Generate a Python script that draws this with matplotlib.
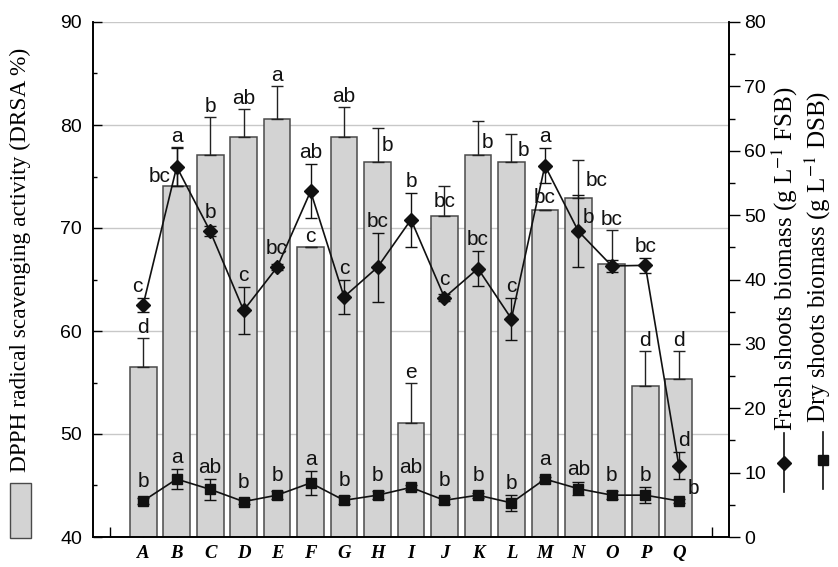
import numpy as np
import matplotlib
matplotlib.use('Agg')
import matplotlib.pyplot as plt
from matplotlib.lines import Line2D
from matplotlib.patches import Rectangle
from matplotlib.ticker import MultipleLocator

plt.rcParams['mathtext.fontset'] = 'stix'

# treatments on the x axis
groups = list('ABCDEFGHIJKLMNOPQ')

# DPPH radical scavenging activity (left axis, bars)
drsa = [56.5, 74.1, 77.1, 78.8, 80.6, 68.2, 78.8, 76.4, 51.1, 71.2, 77.1, 76.4, 71.7, 72.9, 66.5, 54.7, 55.3]
drsa_err = [2.8, 3.8, 3.7, 2.8, 3.2, 0.0, 2.9, 3.3, 3.9, 2.9, 3.3, 2.7, 0.0, 3.7, 3.3, 3.4, 2.8]
drsa_letters = ['d', 'bc', 'b', 'ab', 'a', 'c', 'ab', 'b', 'e', 'bc', 'b', 'b', 'bc', 'bc', 'bc', 'd', 'd']

# fresh shoots biomass (right axis, diamonds)
fsb = [36.1, 57.5, 47.5, 35.2, 41.9, 53.7, 37.3, 41.9, 49.3, 37.2, 41.7, 33.9, 57.7, 47.5, 42.1, 42.2, 11.1]
fsb_err = [1.1, 3.0, 0.8, 3.7, 0.5, 4.2, 2.7, 5.4, 4.2, 0.5, 2.7, 3.3, 2.7, 5.6, 0.9, 1.2, 2.1]
fsb_letters = ['c', 'a', 'b', 'c', 'bc', 'ab', 'c', 'bc', 'b', 'c', 'bc', 'c', 'a', 'b', 'bc', 'bc', 'd']

# dry shoots biomass (right axis, squares)
dsb = [5.6, 9.0, 7.4, 5.5, 6.5, 8.4, 5.7, 6.5, 7.7, 5.7, 6.5, 5.3, 9.0, 7.5, 6.5, 6.5, 5.6]
dsb_err = [0.4, 1.5, 1.6, 0.4, 0.6, 1.9, 0.6, 0.6, 0.4, 0.5, 0.4, 1.3, 0.3, 1.0, 0.6, 1.2, 0.3]
dsb_letters = ['b', 'a', 'ab', 'b', 'b', 'a', 'b', 'b', 'ab', 'b', 'b', 'b', 'a', 'ab', 'b', 'b', 'b']

SANS = 'Liberation Sans'
SERIF = 'Liberation Serif'
DPI = 100
PT = 72.0 / DPI  # pixels -> points

fig = plt.figure(figsize=(8.38, 5.67), dpi=DPI)
ax1 = fig.add_axes([93 / 838, 1 - 537 / 567, 636 / 838, 515 / 567])
ax2 = ax1.twinx()

x = np.arange(1, len(groups) + 1)

ax1.bar(x, drsa, width=0.8, color='#d3d3d3', edgecolor='#4a4a4a', linewidth=1.1, zorder=2,
        yerr=[np.zeros(len(drsa)), drsa_err],
        error_kw=dict(ecolor='#222222', elinewidth=1.0, capsize=4, capthick=1.0))

ax2.errorbar(x, fsb, yerr=fsb_err, color='#111111', lw=1.2, marker='D', ms=7.5,
             capsize=4, elinewidth=1.0, capthick=1.0)
ax2.errorbar(x, dsb, yerr=dsb_err, color='#111111', lw=1.2, marker='s', ms=7.5,
             capsize=4, elinewidth=1.0, capthick=1.0)

ax1.set_xlim(-0.5, 18.5)
ax1.set_ylim(40, 90)
ax2.set_ylim(0, 80)

ax1.set_xticks(np.arange(0, 19))
ax1.set_xticklabels([''] + groups + [''], fontfamily=SERIF, fontweight='bold',
                    fontstyle='italic', fontsize=13.5)
ax1.tick_params(axis='x', direction='in', length=7, width=1, pad=6)

ax1.yaxis.set_major_locator(MultipleLocator(10))
ax1.yaxis.set_minor_locator(MultipleLocator(5))
ax1.tick_params(axis='y', which='major', direction='in', length=6.5, width=1, pad=8, labelsize=14)
ax1.tick_params(axis='y', which='minor', direction='in', length=3, width=1)
for lab in ax1.get_yticklabels():
    lab.set_fontfamily(SANS)

ax2.yaxis.set_major_locator(MultipleLocator(10))
ax2.yaxis.set_minor_locator(MultipleLocator(5))
ax2.tick_params(axis='y', which='major', direction='out', length=8, width=1, pad=3, labelsize=14)
ax2.tick_params(axis='y', which='minor', direction='out', length=4, width=1)
for lab in ax2.get_yticklabels():
    lab.set_fontfamily(SANS)

ax1.set_axisbelow(True)
ax1.yaxis.grid(True, color='#c8c8c8', lw=1.0)
ax1.get_ygridlines()[-1].set_visible(False)

for ax in (ax1, ax2):
    ax.spines['top'].set_visible(False)
    for s in ('left', 'right', 'bottom'):
        ax.spines[s].set_linewidth(1.2)


def put_letters(ax, values, errs, letters, gap, clear, special):
    for i, (xi, v, e, txt) in enumerate(zip(x, values, errs, letters)):
        _, y0 = ax.transData.transform((xi, v))
        _, y1 = ax.transData.transform((xi, v + e))
        if i in special:
            if special[i] is None:  # shares the bar's letter at the same spot
                continue
            dx, dy, ha, va = special[i]
        else:
            dx, dy, ha, va = 0, max(y1 - y0, clear) + gap, 'center', 'bottom'
        ax.annotate(txt, (xi, v), xytext=(dx * PT, dy * PT), textcoords='offset points',
                    ha=ha, va=va, fontsize=15, fontfamily=SANS, color='#111111', zorder=6)


# letters that sit beside the error bars instead of above them
bar_special = {1: (-17, 9, 'center', 'center'), 5: (0, 10, 'center', 'center'),
               7: (4, 17, 'left', 'center'), 9: (0, 14, 'center', 'center'),
               10: (4, 12, 'left', 'center'), 11: (6, 12, 'left', 'center'),
               12: (0, 13, 'center', 'center'), 13: (7, 18, 'left', 'center')}
fsb_special = {0: (-6, 9, 'center', 'bottom'), 13: (4, 14, 'left', 'center'),
               14: None, 16: (5, 16, 'center', 'bottom')}
dsb_special = {16: (9, 12, 'left', 'center')}

put_letters(ax1, drsa, drsa_err, drsa_letters, gap=1, clear=0, special=bar_special)
put_letters(ax2, fsb, fsb_err, fsb_letters, gap=2, clear=7, special=fsb_special)
put_letters(ax2, dsb, dsb_err, dsb_letters, gap=2, clear=8, special=dsb_special)

# axis titles with their legend keys
fig.text(20 / 838, 1 - 260 / 567, 'DPPH radical scavenging activity (DRSA %)', rotation=90,
         ha='center', va='center', fontsize=16.8, fontfamily=SERIF)
fig.add_artist(Rectangle((10 / 838, 1 - 538 / 567), 21 / 838, 55 / 567, transform=fig.transFigure,
                         facecolor='#d3d3d3', edgecolor='#4a4a4a', lw=1.0))

fig.text(785 / 838, 1 - 431 / 567, 'Fresh shoots biomass (g L$^{-1}$ FSB)', rotation=90,
         ha='center', va='bottom', fontsize=18, fontfamily=SERIF)
fig.add_artist(Line2D([784 / 838, 784 / 838], [1 - 433 / 567, 1 - 492 / 567], transform=fig.transFigure,
                      color='#111111', lw=1.2))
fig.add_artist(Line2D([784 / 838], [1 - 463 / 567], transform=fig.transFigure,
                      color='#111111', marker='D', ms=7.5, ls='none'))

fig.text(818 / 838, 1 - 423 / 567, 'Dry shoots biomass (g L$^{-1}$ DSB)', rotation=90,
         ha='center', va='bottom', fontsize=18, fontfamily=SERIF)
fig.add_artist(Line2D([823 / 838, 823 / 838], [1 - 432 / 567, 1 - 489 / 567], transform=fig.transFigure,
                      color='#111111', lw=1.2))
fig.add_artist(Line2D([823 / 838], [1 - 460 / 567], transform=fig.transFigure,
                      color='#111111', marker='s', ms=7.5, ls='none'))

fig.savefig('out.png', dpi=DPI)
